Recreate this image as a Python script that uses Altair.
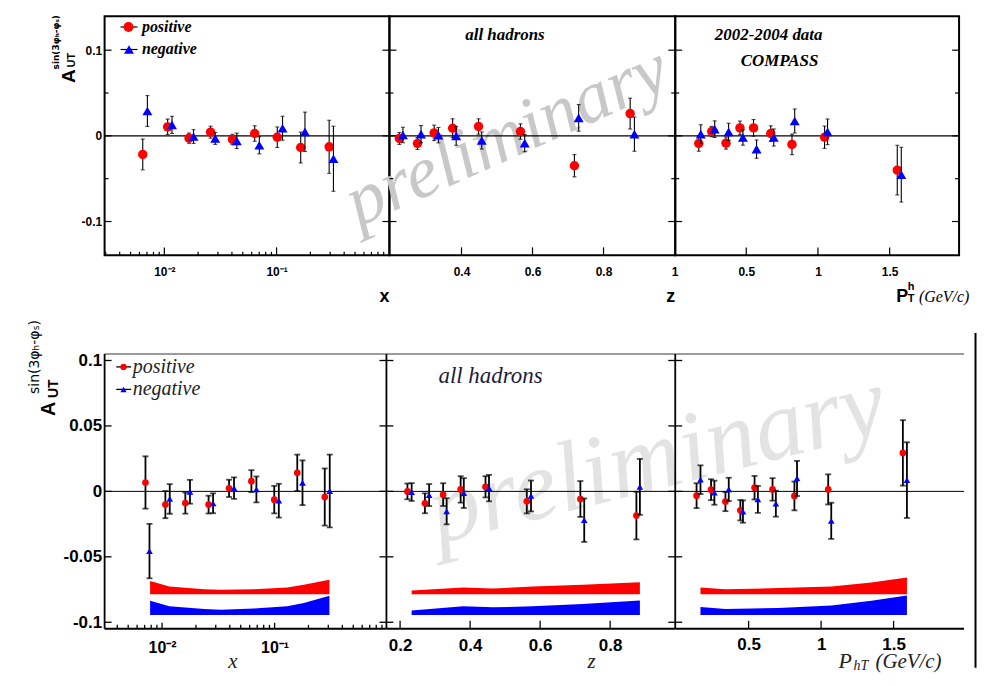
import altair as alt
import pandas as pd

SANS = "Liberation Sans"
SERIF = "Liberation Serif"

# ---------------- top row : 2002-2004 data ----------------
TOP_X_POS_X = [0.00642, 0.0107, 0.0166, 0.0258, 0.0404, 0.0638, 0.1014, 0.164, 0.294]
TOP_X_POS_Y = [-0.0217, 0.0105, -0.0027, 0.0043, -0.0043, 0.0027, -0.0016, -0.0136, -0.0128]
TOP_X_POS_E = [0.018, 0.009, 0.006, 0.007, 0.006, 0.009, 0.012, 0.018, 0.031]
TOP_X_NEG_X = [0.00706, 0.0117, 0.0182, 0.0284, 0.0442, 0.0702, 0.113, 0.179, 0.321]
TOP_X_NEG_Y = [0.029, 0.0128, -0.0008, -0.003, -0.0058, -0.011, 0.0089, 0.0047, -0.0267]
TOP_X_NEG_E = [0.018, 0.010, 0.008, 0.007, 0.009, 0.010, 0.014, 0.023, 0.038]

TOP_Z_POS_X = [0.225, 0.276, 0.323, 0.375, 0.448, 0.566, 0.718, 0.875]
TOP_Z_POS_Y = [-0.003, -0.0089, 0.0035, 0.0089, 0.0109, 0.005, -0.0349, 0.026]
TOP_Z_POS_E = [0.007, 0.007, 0.009, 0.011, 0.009, 0.009, 0.013, 0.018]
TOP_Z_NEG_X = [0.235, 0.286, 0.335, 0.385, 0.457, 0.578, 0.730, 0.887]
TOP_Z_NEG_Y = [0.001, 0.002, 0.0008, 0.0, -0.0054, -0.0085, 0.021, 0.002]
TOP_Z_NEG_E = [0.009, 0.010, 0.009, 0.011, 0.010, 0.010, 0.0155, 0.020]

TOP_P_POS_X = [0.169, 0.259, 0.359, 0.456, 0.551, 0.671, 0.819, 1.046, 1.553]
TOP_P_POS_Y = [-0.0089, 0.005, -0.0085, 0.0093, 0.0093, 0.0027, -0.010, -0.0016, -0.040]
TOP_P_POS_E = [0.009, 0.006, 0.007, 0.008, 0.0097, 0.009, 0.012, 0.013, 0.029]
TOP_P_NEG_X = [0.183, 0.280, 0.377, 0.477, 0.572, 0.692, 0.838, 1.067, 1.581]
TOP_P_NEG_Y = [0.002, 0.0078, 0.0047, -0.0019, -0.0155, -0.0019, 0.0174, 0.0047, -0.0453]
TOP_P_NEG_E = [0.011, 0.0097, 0.010, 0.009, 0.0107, 0.010, 0.014, 0.015, 0.032]

# ---------------- bottom row ----------------
BOT_X_POS_X = [0.00712, 0.0107, 0.0161, 0.0259, 0.0394, 0.0622, 0.0993, 0.159, 0.279]
BOT_X_POS_Y = [0.0068, -0.0101, -0.0089, -0.0101, 0.0023, 0.0078, -0.0063, 0.0142, -0.0043]
BOT_X_POS_E = [0.020, 0.0104, 0.0081, 0.0068, 0.0066, 0.0084, 0.0105, 0.0139, 0.0218]
BOT_X_NEG_X = [0.00773, 0.0117, 0.0177, 0.0284, 0.0436, 0.0689, 0.109, 0.177, 0.309]
BOT_X_NEG_Y = [-0.0456, -0.0058, -0.0003, -0.0091, 0.0025, 0.0015, -0.0071, 0.0066, 0.0003]
BOT_X_NEG_E = [0.0208, 0.0113, 0.0091, 0.0076, 0.0082, 0.0099, 0.0129, 0.0171, 0.0278]

BOT_Z_POS_X = [0.221, 0.271, 0.323, 0.373, 0.444, 0.562, 0.715, 0.875]
BOT_Z_POS_Y = [0.0, -0.0091, -0.0025, 0.0015, 0.0035, -0.0076, -0.0058, -0.0185]
BOT_Z_POS_E = [0.006, 0.0076, 0.0087, 0.0101, 0.0081, 0.0092, 0.0137, 0.0182]
BOT_Z_NEG_X = [0.233, 0.283, 0.333, 0.382, 0.454, 0.574, 0.726, 0.885]
BOT_Z_NEG_Y = [-0.0005, -0.0028, -0.0152, -0.0013, 0.0025, -0.0035, -0.022, 0.0035]
BOT_Z_NEG_E = [0.0068, 0.0084, 0.010, 0.0114, 0.0101, 0.0118, 0.0166, 0.0214]

BOT_P_POS_X = [0.141, 0.241, 0.340, 0.443, 0.541, 0.665, 0.816, 1.049, 1.564]
BOT_P_POS_Y = [-0.0033, 0.0013, -0.0078, -0.0144, 0.0028, 0.0015, -0.0035, 0.0015, 0.0294]
BOT_P_POS_E = [0.0095, 0.008, 0.0073, 0.0078, 0.009, 0.0086, 0.011, 0.0115, 0.025]
BOT_P_NEG_X = [0.168, 0.264, 0.363, 0.461, 0.564, 0.688, 0.834, 1.070, 1.592]
BOT_P_NEG_Y = [0.0089, -0.001, 0.0015, -0.0154, -0.0061, -0.0094, 0.0099, -0.0225, 0.0086]
BOT_P_NEG_E = [0.011, 0.0092, 0.0089, 0.0085, 0.0103, 0.0099, 0.0134, 0.0138, 0.0289]

# theory bands (bottom row)
BOT_X_BAND_X = [0.00783, 0.0116, 0.0237, 0.0333, 0.0656, 0.1294, 0.182, 0.307]
BOT_X_RED_TOP = [-0.0684, -0.0727, -0.0747, -0.0752, -0.0747, -0.0734, -0.0714, -0.0676]
BOT_X_BLUE_TOP = [-0.0835, -0.0878, -0.0899, -0.0904, -0.0894, -0.0878, -0.0853, -0.0797]
BOT_Z_BAND_X = [0.233, 0.380, 0.465, 0.579, 0.721, 0.885]
BOT_Z_RED_TOP = [-0.0757, -0.0734, -0.0742, -0.0727, -0.0714, -0.0694]
BOT_Z_BLUE_TOP = [-0.0911, -0.0878, -0.0886, -0.0878, -0.0861, -0.0833]
BOT_P_BAND_X = [0.168, 0.340, 0.706, 1.072, 1.347, 1.592]
BOT_P_RED_TOP = [-0.0734, -0.0747, -0.0739, -0.0727, -0.0696, -0.0658]
BOT_P_BLUE_TOP = [-0.0884, -0.0899, -0.0891, -0.0871, -0.0835, -0.0795]
RED_BAND_BOTTOM = -0.0785
BLUE_BAND_BOTTOM = -0.0944

# tick positions
TOP_Y_MAJOR = [-0.1, 0.0, 0.1]
TOP_Y_MINOR = [-0.05, 0.05]
BOT_Y_MAJOR = [-0.1, -0.05, 0.0, 0.05, 0.1]
LOG_MAJOR = [0.01, 0.1]
LOG_MINOR_TOP = [0.003, 0.004, 0.005, 0.006, 0.007, 0.008, 0.009,
                 0.02, 0.03, 0.04, 0.05, 0.06, 0.07, 0.08, 0.09,
                 0.2, 0.3, 0.4, 0.5, 0.6, 0.7, 0.8, 0.9]
LOG_MINOR_BOT = LOG_MINOR_TOP[1:]
TOP_Z_TICKS = [0.4, 0.6, 0.8]
TOP_P_TICKS = [0.5, 1.0, 1.5]
BOT_Z_TICKS = [0.2, 0.4, 0.6, 0.8]
BOT_P_TICKS = [0.5, 1.0, 1.5]

ONE = pd.DataFrame({"k": [0]})


def series(xs, ys, es):
    return pd.DataFrame({"x": xs, "y": ys,
                         "lo": [y - e for y, e in zip(ys, es)],
                         "hi": [y + e for y, e in zip(ys, es)]})


def band(xs, tops, bottom):
    return pd.DataFrame({"x": xs, "top": tops, "bot": [bottom] * len(xs)})


def text(t, x, y, size, font=SANS, weight="normal", style="normal", color="black",
         align="center", baseline="middle", angle=0):
    mk = dict(text=t, fontSize=size, font=font, fontWeight=weight, fontStyle=style,
              color=color, align=align, baseline=baseline)
    if angle:
        mk["angle"] = angle
    return alt.Chart(ONE).mark_text(**mk).encode(x=alt.value(x), y=alt.value(y))


def hline(x1, x2, y, color="black", width=1.0):
    return alt.Chart(ONE).mark_rule(color=color, strokeWidth=width).encode(
        x=alt.value(x1), x2=alt.value(x2), y=alt.value(y))


def vline(x, y1, y2, color="black", width=1.0, opacity=1.0):
    return alt.Chart(ONE).mark_rule(color=color, strokeWidth=width, strokeOpacity=opacity).encode(
        x=alt.value(x), y=alt.value(y1), y2=alt.value(y2))


def marker(x, y, shape, color, size):
    return alt.Chart(ONE).mark_point(shape=shape, filled=True, color=color, size=size,
                                     opacity=1, strokeWidth=0).encode(
        x=alt.value(x), y=alt.value(y))


def lin_axis(values, size, pad, expr="replace(format(datum.value, '~g'), '\u2212', '-')"):
    return alt.Axis(values=values, title=None, ticks=False, tickSize=0, domain=False, grid=False,
                    labelFont=SANS, labelFontWeight="bold", labelFontSize=size, labelColor="black",
                    labelPadding=pad, labelFlush=False, labelOverlap=False, labelExpr=expr)


def panel(W, H, xscale, yscale, xaxis, yaxis, pos, neg, st, xmaj, xmin, ymaj, ymin,
          right_ticks=True, back=(), front=(), bands=(), view=None):
    def X(f):
        return alt.X(f, type="quantitative", scale=xscale, axis=xaxis)

    def Y(f):
        return alt.Y(f, type="quantitative", scale=yscale, axis=yaxis)

    L = list(back)
    for df, col in bands:
        L.append(alt.Chart(df).mark_area(color=col, opacity=1, interpolate="linear").encode(
            x=X("x"), y=Y("top"), y2=alt.Y2("bot")))
    L.append(alt.Chart(pd.DataFrame({"y": [0.0]})).mark_rule(
        color="black", strokeWidth=st["zero_w"]).encode(y=Y("y")))
    tw = st["tick_w"]
    for vals, ln in ((ymaj, st["ymaj"]), (ymin, st["ymin"])):
        if vals:
            d = pd.DataFrame({"y": vals})
            L.append(alt.Chart(d).mark_rule(color="black", strokeWidth=tw).encode(
                y=Y("y"), x=alt.value(0), x2=alt.value(ln)))
            if right_ticks:
                L.append(alt.Chart(d).mark_rule(color="black", strokeWidth=tw).encode(
                    y=Y("y"), x=alt.value(W), x2=alt.value(W - ln)))
    for vals, ln in ((xmaj, st["xmaj"]), (xmin, st["xmin"])):
        if vals:
            d = pd.DataFrame({"x": vals})
            L.append(alt.Chart(d).mark_rule(color="black", strokeWidth=tw).encode(
                x=X("x"), y=alt.value(H), y2=alt.value(H - ln)))
    for df, shape, col, size in ((pos, "circle", "#ff0000", st["csize"]),
                                 (neg, "triangle-up", "#0000ff", st["tsize"])):
        L.append(alt.Chart(df).mark_rule(color="black", strokeWidth=st["err_w"]).encode(
            x=X("x"), y=Y("lo"), y2=alt.Y2("hi")))
        for f in ("lo", "hi"):
            L.append(alt.Chart(df).mark_tick(color="black", orient="horizontal",
                                             size=st["cap"], thickness=st["err_w"]).encode(
                x=X("x"), y=Y(f)))
        L.append(alt.Chart(df).mark_point(shape=shape, filled=True, color=col, size=size,
                                          opacity=1, strokeWidth=0).encode(x=X("x"), y=Y("y")))
    L += list(front)
    return alt.layer(*L).properties(width=W, height=H, view=view)


# ---------------- styles ----------------
TOP = dict(zero_w=1.2, tick_w=1.2, ymaj=7, ymin=4, xmaj=8, xmin=3.5, err_w=1.1, cap=4,
           csize=90, tsize=100)
BOT_LOG = dict(zero_w=1.0, tick_w=1.3, ymaj=7, ymin=4, xmaj=6, xmin=4, err_w=1.8, cap=6,
               csize=45, tsize=45)
BOT = dict(BOT_LOG, xmaj=8)

TOP_VIEW = alt.ViewBackground(stroke="black", strokeWidth=2)
BOT_VIEW = alt.ViewBackground(strokeOpacity=0)

TH = 240
BH = 276
TOP_YS = alt.Scale(domain=[-0.1395, 0.1395], nice=False, zero=False)
BOT_YS = alt.Scale(domain=[-0.105, 0.105], nice=False, zero=False)

# ---------------- top row ----------------
W1, W2, W3 = 286, 287, 285
p1 = panel(
    W1, TH,
    alt.Scale(type="log", domain=[0.002935, 1.0123], nice=False),
    TOP_YS,
    lin_axis(LOG_MAJOR, 12, 11, "datum.value < 0.05 ? '10\u207b\u00b2' : '10\u207b\u00b9'"),
    lin_axis(TOP_Y_MAJOR, 12, 3),
    series(TOP_X_POS_X, TOP_X_POS_Y, TOP_X_POS_E),
    series(TOP_X_NEG_X, TOP_X_NEG_Y, TOP_X_NEG_E),
    TOP, LOG_MAJOR, LOG_MINOR_TOP, TOP_Y_MAJOR, TOP_Y_MINOR,
    front=[
        vline(-84, -7, 292, opacity=0),  # layout anchor (invisible)
        hline(16, 33, 10.7, width=1.2), marker(24, 10.7, "circle", "#ff0000", 100),
        text("positive", 37.5, 10.7, 16, font=SERIF, weight="bold", style="italic", align="left"),
        hline(16, 33, 33.3, width=1.2), marker(24.5, 33.3, "triangle-up", "#0000ff", 100),
        text("negative", 37.5, 33.3, 16, font=SERIF, weight="bold", style="italic", align="left"),
        text("A", -36, 60, 19, weight="bold", angle=270),
        text("UT", -33, 44, 11, weight="bold", angle=270),
        text("sin(3\u03c6\u2095-\u03c6\u209b)", -48.5, 26, 9, font="DejaVu Sans",
             weight="bold", angle=270),
        text("x", 281, 287, 18, weight="bold", baseline="alphabetic"),
    ],
    view=TOP_VIEW,
)

p2 = panel(
    W2, TH,
    alt.Scale(domain=[0.197, 1.002], nice=False, zero=False),
    TOP_YS,
    lin_axis([0.4, 0.6, 0.8, 1.0], 12, 11),
    None,
    series(TOP_Z_POS_X, TOP_Z_POS_Y, TOP_Z_POS_E),
    series(TOP_Z_NEG_X, TOP_Z_NEG_Y, TOP_Z_NEG_E),
    TOP, TOP_Z_TICKS, [], TOP_Y_MAJOR, TOP_Y_MINOR,
    back=[text("preliminary", 127, 141, 74, font=SERIF, style="italic", color="#c8c8c8",
               baseline="alphabetic", angle=336)],
    front=[
        text("all hadrons", 116, 18.3, 17, font=SERIF, weight="bold", style="italic"),
        text("z", 282.5, 287, 18, weight="bold", baseline="alphabetic"),
    ],
    view=TOP_VIEW,
)

p3 = panel(
    W3, TH,
    alt.Scale(domain=[0.005, 1.984], nice=False, zero=False),
    TOP_YS,
    lin_axis([0.5, 1.0, 1.5, 2.0], 12, 11),
    None,
    series(TOP_P_POS_X, TOP_P_POS_Y, TOP_P_POS_E),
    series(TOP_P_NEG_X, TOP_P_NEG_Y, TOP_P_NEG_E),
    TOP, TOP_P_TICKS, [], TOP_Y_MAJOR, TOP_Y_MINOR,
    front=[
        text("2002-2004 data", 93.8, 18.3, 17, font=SERIF, weight="bold", style="italic"),
        text("COMPASS", 104.7, 45, 17, font=SERIF, weight="bold", style="italic"),
        text("P", 222, 287, 18, weight="bold", align="left", baseline="alphabetic"),
        text("h", 233.5, 275, 11, weight="bold", align="left", baseline="alphabetic"),
        text("T", 233.5, 287, 11, weight="bold", align="left", baseline="alphabetic"),
        text("(GeV/c)", 244.7, 287, 16, font=SERIF, style="italic", align="left",
             baseline="alphabetic"),
    ],
    view=TOP_VIEW,
)

# ---------------- bottom row ----------------
V1, V2, V3 = 283, 290, 290
TB = 315  # baseline of the bottom-row axis titles (relative to the plot top)


def frame(W, left=True):
    items = [hline(0, W, 0, color="#7a7a7a", width=1.5), hline(0, W, BH, width=2)]
    if left:
        items.append(vline(0, 0, BH, width=1.8))
    return items


q1 = panel(
    V1, BH,
    alt.Scale(type="log", domain=[0.003086, 0.9858], nice=False),
    BOT_YS,
    lin_axis(LOG_MAJOR, 16, 11, "datum.value < 0.05 ? '10\u207b\u00b2' : '10\u207b\u00b9'"),
    lin_axis(BOT_Y_MAJOR, 17, 3),
    series(BOT_X_POS_X, BOT_X_POS_Y, BOT_X_POS_E),
    series(BOT_X_NEG_X, BOT_X_NEG_Y, BOT_X_NEG_E),
    BOT_LOG, LOG_MAJOR, LOG_MINOR_BOT, BOT_Y_MAJOR, [],
    bands=[(band(BOT_X_BAND_X, BOT_X_RED_TOP, RED_BAND_BOTTOM), "#ff0000"),
           (band(BOT_X_BAND_X, BOT_X_BLUE_TOP, BLUE_BAND_BOTTOM), "#0000ff")],
    front=frame(V1) + [
        vline(-80, -42, 0, opacity=0),  # layout anchor (invisible)
        hline(11.7, 26.7, 13, width=1.3), marker(19, 13, "circle", "#ff0000", 40),
        text("positive", 28.3, 13, 20, font=SERIF, style="italic", align="left", color="#222222"),
        hline(11.7, 26.7, 35.6, width=1.3), marker(19, 35.6, "triangle-up", "#0000ff", 40),
        text("negative", 28.3, 35.6, 20, font=SERIF, style="italic", align="left", color="#222222"),
        text("A", -56.3, 55, 20, weight="bold", angle=270),
        text("UT", -51, 35, 14, weight="bold", angle=270),
        text("sin(3\u03c6\u2095-\u03c6\u209b)", -70, 3, 14, font="DejaVu Sans", angle=270),
        text("x", 128.8, TB, 21, font=SERIF, style="italic", baseline="alphabetic",
             color="#222222"),
    ],
    view=BOT_VIEW,
)

q2 = panel(
    V2, BH,
    alt.Scale(domain=[0.161, 0.986], nice=False, zero=False),
    BOT_YS,
    lin_axis(BOT_Z_TICKS, 17, 9),
    None,
    series(BOT_Z_POS_X, BOT_Z_POS_Y, BOT_Z_POS_E),
    series(BOT_Z_NEG_X, BOT_Z_NEG_Y, BOT_Z_NEG_E),
    BOT, BOT_Z_TICKS, [], BOT_Y_MAJOR, [],
    back=[text("preliminary", 279, 134, 100, font=SERIF, style="italic", color="#e3e3e3",
               baseline="alphabetic", angle=346)],
    bands=[(band(BOT_Z_BAND_X, BOT_Z_RED_TOP, RED_BAND_BOTTOM), "#ff0000"),
           (band(BOT_Z_BAND_X, BOT_Z_BLUE_TOP, BLUE_BAND_BOTTOM), "#0000ff")],
    front=frame(V2) + [
        text("all hadrons", 104.5, 22.3, 23, font=SERIF, style="italic", color="#1c1c3c"),
        text("z", 206, TB, 21, font=SERIF, style="italic", baseline="alphabetic",
             color="#222222"),
    ],
    view=BOT_VIEW,
)

q3 = panel(
    V3, BH,
    alt.Scale(domain=[-0.006, 1.986], nice=False, zero=False),
    BOT_YS,
    lin_axis(BOT_P_TICKS, 17, 8),
    None,
    series(BOT_P_POS_X, BOT_P_POS_Y, BOT_P_POS_E),
    series(BOT_P_NEG_X, BOT_P_NEG_Y, BOT_P_NEG_E),
    BOT, BOT_P_TICKS, [], BOT_Y_MAJOR, [],
    right_ticks=False,
    bands=[(band(BOT_P_BAND_X, BOT_P_RED_TOP, RED_BAND_BOTTOM), "#ff0000"),
           (band(BOT_P_BAND_X, BOT_P_BLUE_TOP, BLUE_BAND_BOTTOM), "#0000ff")],
    front=frame(V3) + [
        text("P", 164, TB, 22, font=SERIF, style="italic", align="left", baseline="alphabetic",
             color="#222222"),
        text("hT", 179, TB + 2, 14, font=SERIF, style="italic", align="left",
             baseline="alphabetic", color="#222222"),
        text("(GeV/c)", 201, TB, 21, font=SERIF, style="italic", align="left",
             baseline="alphabetic", color="#222222"),
        vline(301.5, -21, 315, width=2),
    ],
    view=BOT_VIEW,
)

row1 = alt.hconcat(p1, p2, p3, spacing=0, bounds="flush")
row2 = alt.hconcat(q1, q2, q3, spacing=0, bounds="flush")
chart = alt.vconcat(row1, row2, spacing=4).properties(
    padding={"left": 12, "top": -1, "right": 0, "bottom": 0}
).configure(background="white")

chart.save("out.html", embed_options={"renderer": "svg", "actions": False})
